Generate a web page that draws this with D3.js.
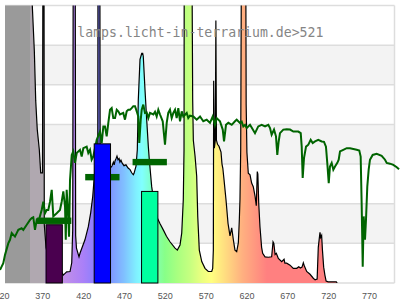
<!DOCTYPE html>
<html>
<head>
<meta charset="utf-8">
<script src="https://cdn.jsdelivr.net/npm/d3@7"></script>
<style>
  html, body { margin: 0; padding: 0; background: #fff; overflow: hidden; }
  svg { display: block; }
</style>
</head>
<body>
<svg id="chart" width="400" height="300"></svg>
<script>
// lamp emission spectrum: [wavelength nm, relative intensity]; values above 7 run off the top
const spectrum = [
  [322, 9], [355, 9], [356.5, 9], [357.7, 7.0], [360.2, 5.86], [361.9, 4.6], [363.8, 3.87], [366.3, 3.36],
  [368.0, 2.78], [370.2, 2.78], [370.8, 9], [372.0, 9], [372.4, 1.47], [374.5, 0.9], [380, 0.4], [390, 0.28],
  [394.4, 0.25], [395.7, 0.2], [399.8, 0.28], [403.9, 0.29], [406.0, 0.51], [407.2, 1.34], [407.9, 9], [410.2, 9],
  [410.8, 1.2], [411.8, 0.88], [414.9, 0.66], [416.1, 0.75], [422.2, 1.09], [426.3, 1.42], [429.2, 1.77],
  [431.7, 2.18], [433.3, 2.6], [436, 3.2], [437.9, 3.5], [438.2, 9], [440.4, 9], [440.8, 3.4], [446, 3.1],
  [453.2, 2.9], [455.3, 2.95], [457, 3.05], [458, 2.98], [459, 3.08], [460.5, 3.15], [461.4, 3.2], [462.7, 3.11],
  [464, 3.14], [465, 3.05], [466.3, 3.1], [467.6, 3.03], [470, 2.96], [472.4, 2.98], [475, 2.9], [477.4, 2.86],
  [479.4, 2.78], [481.4, 2.73], [482.2, 2.76], [484.7, 2.95], [486.3, 3.36], [487.5, 4.62], [489.6, 5.64],
  [491.7, 5.79], [492.9, 5.79], [493.6, 5.72], [495.7, 4.88], [497.8, 4.12], [499.8, 3.44], [501.0, 3.11],
  [503.9, 2.43], [507, 2.0], [510.8, 1.64], [514, 1.5], [518.1, 1.34], [522, 1.18], [526.3, 1.04], [532.5, 0.88],
  [535.3, 0.83], [538.6, 0.96], [540.7, 1.26], [542.6, 2.1], [543.5, 3.36], [543.8, 9], [553, 9], [554.1, 4.62],
  [554.9, 3.6], [557, 3.2], [559.0, 2.7], [560.3, 1.68], [562.2, 0.83], [565.2, 0.54], [569.2, 0.37],
  [573.2, 0.29], [577.4, 0.29], [578.6, 0.37], [579.4, 0.83], [579.8, 5.1], [580.6, 3.4], [581.8, 3.6],
  [582.5, 6.62], [583.2, 3.6], [584.5, 3.5], [586.3, 3.45], [588.8, 3.3], [590, 3.0], [591, 2.9], [592.5, 2.6],
  [594.9, 2.1], [597.4, 1.5], [599.8, 1.19], [601.9, 1.39], [603.9, 1.09], [605.9, 0.83], [608.0, 0.79],
  [610.0, 1.01], [611.2, 1.59], [612.0, 2.1], [612.9, 3.36], [613.9, 9], [619.0, 9], [619.6, 4.5], [620.5, 3.3],
  [622.2, 2.77], [624.3, 2.73], [626.3, 2.52], [628.3, 2.43], [630.4, 2.2], [632.0, 1.95], [633.2, 2.81],
  [633.9, 2.75], [635.0, 2.0], [636.5, 1.42], [638.5, 0.9], [639.8, 0.75], [642.7, 0.66], [646.7, 0.65],
  [650.8, 0.66], [652.5, 1.04], [653.5, 1.0], [655, 0.72], [656.5, 0.75], [659, 0.62], [663.1, 0.54], [666, 0.6],
  [667, 0.5], [669.2, 0.5], [673.3, 0.45], [677.3, 0.37], [681.5, 0.37], [684, 0.41], [686, 0.38], [688, 0.4],
  [689.6, 0.51], [691, 0.42], [693.7, 0.29], [697.8, 0.22], [701.8, 0.12], [704, 0.08], [706.5, 0.1],
  [707.9, 0.9], [709, 1.1], [710, 1.28], [710.8, 1.15], [712, 1.2], [713, 0.83], [714.5, 0.4], [716, 0.2],
  [717.5, 0.05], [720, 0.03], [730, 0.03], [731, 0]
];

// green reference curve: [wavelength nm, value]
const greenCurve = [
  [318.2, 0.33], [322.2, 0.50], [324.3, 0.71], [328.3, 1.00], [330.4, 1.09], [332.5, 1.26], [336.5, 1.17],
  [340.6, 1.34], [344.7, 1.38], [346.7, 1.34], [350.9, 1.47], [354.9, 1.59], [357.0, 1.64], [358.9, 1.66],
  [361.0, 1.34], [363.1, 1.59], [365.1, 1.54], [369.2, 1.84], [371.2, 2.05], [373.3, 1.76], [375.3, 1.84],
  [377.3, 1.84], [379.4, 2.05], [381.5, 2.35], [383.4, 1.68], [387.6, 1.76], [391.6, 1.84], [393.7, 2.05],
  [395.7, 2.31], [397.8, 1.93], [398.7, 1.09], [399.8, 2.35], [401.8, 1.68], [402.7, 1.17], [403.9, 2.60],
  [406.0, 3.23], [407.9, 3.32], [410.0, 3.03], [412.1, 3.28], [416.1, 3.36], [418.2, 3.19], [420.2, 3.40],
  [424.3, 3.44], [426.3, 3.28], [428.4, 3.36], [430.4, 3.11], [432.4, 3.19], [436.6, 3.61], [440.6, 3.82],
  [442.7, 3.53], [444.7, 3.95], [446.7, 3.95], [448.8, 3.70], [450.8, 4.04], [452.9, 4.37], [454.9, 4.41],
  [456.9, 4.16], [459.0, 4.16], [461.1, 4.37], [463.0, 4.33], [465.1, 4.25], [469.1, 4.29], [471.2, 4.12],
  [473.3, 4.33], [475.3, 4.37], [477.4, 4.37], [479.4, 4.41], [481.4, 4.46], [483.5, 4.46], [485.6, 4.33],
  [487.5, 4.20], [488.7, 3.53], [490.5, 4.12], [491.7, 4.37], [493.6, 4.50], [495.7, 4.29], [497.8, 4.30],
  [499.8, 4.16], [501.8, 4.29], [505.9, 4.25], [508.0, 4.32], [510.0, 4.20], [512.0, 4.37], [514.1, 4.25],
  [517.4, 4.08], [519.0, 3.74], [520.2, 3.49], [522.3, 4.04], [524.2, 4.29], [526.3, 4.37], [528.4, 4.16],
  [530.4, 4.29], [532.5, 4.37], [534.5, 4.16], [536.5, 4.41], [538.6, 4.08], [540.7, 4.33], [542.6, 4.20],
  [546.8, 4.29], [548.7, 4.16], [550.8, 4.22], [554.9, 4.20], [559.0, 4.12], [563.1, 4.20], [567.1, 4.08],
  [571.3, 4.12], [575.3, 4.04], [578.6, 4.20], [581.4, 3.99], [583.5, 4.16], [587.5, 4.08], [590.9, 3.87],
  [592.5, 3.57], [594.9, 3.99], [597.8, 4.04], [601.9, 3.99], [605.9, 4.08], [608.0, 4.12], [612.0, 4.04],
  [614.1, 4.07], [616.1, 3.95], [618.2, 3.99], [620.2, 3.91], [624.3, 3.99], [626.3, 3.92], [630.4, 3.78],
  [634.4, 3.95], [638.6, 3.99], [642.7, 3.95], [646.7, 3.99], [648.8, 3.91], [650.8, 3.74], [653.7, 3.87],
  [656.1, 3.70], [657.7, 3.23], [659.4, 3.57], [661.0, 3.78], [665.1, 3.87], [669.2, 3.88], [673.3, 3.87],
  [677.3, 3.82], [683.4, 3.82], [686.4, 3.78], [687.6, 3.44], [688.8, 2.65], [690.4, 3.15], [692.9, 3.44],
  [695.7, 3.49], [698.6, 3.61], [701.1, 3.53], [703.9, 3.57], [707.9, 3.61], [712.1, 3.57], [714.9, 3.56],
  [717.3, 3.44], [718.9, 3.03], [720.7, 2.52], [722.2, 2.94], [724.3, 3.03], [726.3, 2.86], [728.4, 2.94],
  [731.2, 3.03], [732.9, 3.11], [734.5, 3.32], [738.5, 3.36], [742.7, 3.40], [746.7, 3.40], [750.8, 3.38],
  [754.9, 3.36], [758.1, 3.34], [759.8, 3.19], [761.0, 2.01], [762.3, 0.41], [763.5, 1.68], [765.1, 1.09],
  [766.3, 1.59], [767.9, 2.43], [769.6, 2.86], [771.2, 3.11], [774.5, 3.23], [779.4, 3.26], [785.5, 3.21],
  [789.6, 3.11], [791.7, 3.03], [795.7, 3.01], [799.8, 2.98], [804.0, 2.92], [806.8, 2.87]
];

// three wavebands: centre wavelength, coloured bar top, dark green level
const bandCenters = [384.5, 443.5, 501.5];
const bandColors = ['#4a004f', '#0000ff', '#00ffa0'];
const bandTops = [1.47, 3.51, 2.31];
const bandLevels = [1.57, 2.67, 3.05];

const tickValues = [320, 370, 420, 470, 520, 570, 620, 670, 720, 770];

// fill colour under the spectrum, by wavelength
const fillStops = [
  [320, '#9a9a9a'], [355, '#9a9a9a'], [355, '#b0a8b0'], [372.5, '#b0a8b0'], [374, '#c490e6'],
  [395, '#c490e6'], [420, '#aa80f8'], [440, '#8080ff'], [455, '#809aff'], [470, '#80c0ff'],
  [485, '#80f0ff'], [492, '#80ffff'], [505, '#80ffc0'], [520, '#88ff88'], [535, '#a8ff80'],
  [550, '#c4ff80'], [565, '#eaff80'], [577, '#ffff80'], [600, '#ffd080'], [615, '#ffb080'],
  [630, '#ff9880'], [645, '#ff8080'], [800, '#ff8080']
];

const titleText = 'lamps.licht-in-terrarium.de>521';

const plot = { left: 5, right: 394.5, top: 5.5, bottom: 283 };

const svg = d3.select('#chart');
const x = d3.scaleLinear().domain([320, 800]).range([1.5, 393.5]);
const y = d3.scaleLinear().domain([0, 7]).range([plot.bottom, plot.top]);

const defs = svg.append('defs');
defs.append('clipPath').attr('id', 'plot-clip')
  .append('rect')
  .attr('x', plot.left).attr('y', plot.top)
  .attr('width', plot.right - plot.left).attr('height', plot.bottom - plot.top);

const grad = defs.append('linearGradient')
  .attr('id', 'spectrum-fill')
  .attr('gradientUnits', 'userSpaceOnUse')
  .attr('x1', x(320)).attr('x2', x(800)).attr('y1', 0).attr('y2', 0);
grad.selectAll('stop').data(fillStops).join('stop')
  .attr('offset', d => (d[0] - 320) / 480)
  .attr('stop-color', d => d[1]);

// alternating bands
svg.append('g').selectAll('rect').data(d3.range(7)).join('rect')
  .attr('x', plot.left).attr('width', plot.right - plot.left)
  .attr('y', d => y(d + 1)).attr('height', d => y(d) - y(d + 1))
  .attr('fill', d => d % 2 === 1 ? '#f3f3f3' : '#fff');

svg.append('g').selectAll('line').data(d3.range(8)).join('line')
  .attr('x1', plot.left).attr('x2', plot.right)
  .attr('y1', d => y(d)).attr('y2', d => y(d))
  .attr('stroke', '#dddddd').attr('stroke-width', 1.5);

svg.append('line')
  .attr('x1', plot.right).attr('x2', plot.right)
  .attr('y1', plot.top).attr('y2', plot.bottom)
  .attr('stroke', '#dddddd').attr('stroke-width', 1.5);

// spectrum
const clipped = svg.append('g').attr('clip-path', 'url(#plot-clip)');
clipped.append('path')
  .datum(spectrum)
  .attr('fill', 'url(#spectrum-fill)')
  .attr('d', d3.area().x(d => x(d[0])).y0(y(0)).y1(d => y(d[1])));
clipped.append('path')
  .datum(spectrum)
  .attr('fill', 'none')
  .attr('stroke', '#000')
  .attr('stroke-width', 1.2)
  .attr('d', d3.line().x(d => x(d[0])).y(d => y(d[1])));

// green curve (not clipped)
svg.append('path')
  .datum(greenCurve)
  .attr('fill', 'none')
  .attr('stroke', '#006400')
  .attr('stroke-width', 2)
  .attr('d', d3.line().x(d => x(d[0])).y(d => y(d[1])));

// dark green level bars, 42 nm wide
svg.append('g').selectAll('rect').data(bandCenters).join('rect')
  .attr('x', d => x(d - 21))
  .attr('width', d => x(d + 21) - x(d - 21))
  .attr('y', (d, i) => y(bandLevels[i]) - 3.2)
  .attr('height', 6.4)
  .attr('fill', '#006400');

// coloured bars, 20 nm wide
svg.append('g').selectAll('rect').data(bandCenters).join('rect')
  .attr('x', d => x(d - 10))
  .attr('width', d => x(d + 10) - x(d - 10))
  .attr('y', (d, i) => y(bandTops[i]))
  .attr('height', (d, i) => y(0) - y(bandTops[i]))
  .attr('fill', (d, i) => bandColors[i])
  .attr('stroke', '#000')
  .attr('stroke-width', 1);

// axis labels
svg.append('g')
  .attr('transform', 'translate(0,292.8)')
  .call(d3.axisBottom(x).tickValues(tickValues).tickSize(0).tickPadding(0))
  .call(g => g.select('.domain').remove())
  .call(g => g.selectAll('text')
    .attr('font-family', '"Liberation Sans", Arial, sans-serif')
    .attr('font-size', '9px')
    .attr('fill', '#555'));

svg.append('text')
  .attr('x', 77.3).attr('y', 36.7)
  .attr('font-family', '"DejaVu Sans Mono", monospace')
  .attr('font-size', '13.2px')
  .attr('fill', '#858585')
  .text(titleText);
</script>
</body>
</html>
